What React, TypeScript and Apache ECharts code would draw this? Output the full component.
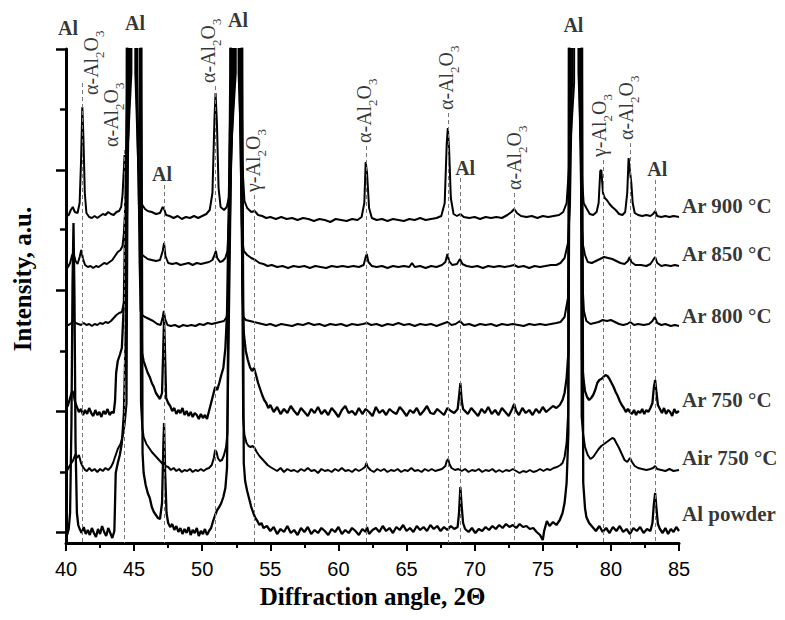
import { useEffect, useRef } from 'react';
import * as echarts from 'echarts';

// ---- data (x = diffraction angle 2Θ, y = intensity in arbitrary units, curves stacked) ----
const sampleNames = ['Ar 900 °C', 'Ar 850 °C', 'Ar 800 °C', 'Ar 750 °C', 'Air 750 °C', 'Al powder'];
const sampleLabelLevels = [337, 289, 227, 143, 85, 29];

const ar900: number[][] = [
  [40.0,327],[40.2,328],[40.35,333],[40.5,336],[40.65,331],[40.85,330],[41.0,340],[41.1,380],[41.2,436],[41.28,405],[41.38,350],[41.5,330],[41.7,326],[41.9,325],[42.1,327],[42.3,325],[42.5,327],[42.7,329],[42.9,328],[43.1,331],[43.3,329],[43.5,328],[43.7,331],[43.9,332],[44.05,336],[44.15,348],[44.3,388],[44.4,370],[44.55,400],[44.8,470],[44.84,900],[45.05,900],[45.09,470],[45.3,380],[45.45,350],[45.6,338],[45.8,334],[46.0,332],[46.3,331],[46.6,329],[46.9,330],[47.1,336],[47.2,334],[47.35,328],[47.6,327],[47.9,325],[48.2,327],[48.5,324],[48.8,326],[49.1,325],[49.4,327],[49.7,325],[50.0,327],[50.3,329],[50.55,333],[50.75,350],[50.9,425],[50.98,450],[51.08,420],[51.2,355],[51.35,336],[51.6,333],[51.8,336],[51.95,345],[52.1,390],[52.46,470],[52.5,900],[52.63,900],[52.67,470],[52.85,400],[52.98,370],[53.1,342],[53.3,335],[53.6,331],[53.85,332],[54.1,328],[54.4,327],[54.7,325],[55.0,326],[55.4,324],[55.8,326],[56.2,324],[56.6,325],[57.0,323],[57.4,325],[57.8,324],[58.2,322],[58.6,324],[59.0,323],[59.4,321],[59.8,324],[60.2,323],[60.6,322],[61.0,324],[61.4,323],[61.7,326],[61.9,340],[62.0,381],[62.1,370],[62.25,335],[62.45,325],[62.8,323],[63.2,324],[63.6,322],[64.0,324],[64.4,323],[64.8,322],[65.2,324],[65.6,323],[66.0,325],[66.4,323],[66.8,324],[67.2,325],[67.55,327],[67.8,340],[67.95,400],[68.03,415],[68.12,395],[68.25,345],[68.45,329],[68.7,327],[68.95,329],[69.2,326],[69.6,325],[70.0,326],[70.4,324],[70.8,326],[71.2,325],[71.6,326],[72.0,325],[72.4,328],[72.7,331],[72.9,334],[73.1,330],[73.4,327],[73.8,326],[74.2,327],[74.6,325],[75.0,327],[75.4,326],[75.8,327],[76.2,328],[76.5,331],[76.75,340],[76.9,370],[77.3,460],[77.34,900],[77.58,900],[77.62,470],[77.9,360],[78.0,340],[78.2,335],[78.45,329],[78.7,328],[78.95,331],[79.1,340],[79.22,372],[79.3,373],[79.42,350],[79.55,345],[79.7,343],[79.9,339],[80.1,336],[80.35,333],[80.6,329],[80.85,328],[81.05,331],[81.2,350],[81.3,385],[81.4,372],[81.5,360],[81.6,340],[81.75,330],[82.0,328],[82.3,327],[82.6,328],[82.9,327],[83.1,329],[83.25,332],[83.4,327],[83.7,326],[84.0,327],[84.3,326],[84.6,327],[85.0,326]
];

const ar850: number[][] = [
  [40.0,274],[40.15,276],[40.3,280],[40.45,288],[40.55,290],[40.7,282],[40.85,279],[41.0,286],[41.12,293],[41.25,284],[41.4,278],[41.6,276],[41.8,277],[42.0,275],[42.2,277],[42.4,276],[42.6,278],[42.8,280],[43.0,279],[43.2,281],[43.4,283],[43.6,287],[43.8,291],[44.0,293],[44.15,297],[44.25,310],[44.45,360],[44.71,470],[44.75,900],[45.12,900],[45.16,470],[45.35,340],[45.45,300],[45.6,288],[45.8,286],[46.0,284],[46.3,283],[46.6,282],[46.9,283],[47.1,292],[47.2,300],[47.3,287],[47.5,280],[47.8,279],[48.1,280],[48.4,278],[48.7,279],[49.0,280],[49.3,278],[49.6,280],[49.9,279],[50.2,280],[50.5,281],[50.75,283],[50.9,288],[51.0,292],[51.1,285],[51.3,281],[51.5,282],[51.7,285],[51.85,292],[51.95,320],[52.36,470],[52.4,900],[52.68,900],[52.72,470],[52.9,320],[52.97,300],[53.05,292],[53.3,288],[53.6,285],[53.9,283],[54.2,280],[54.5,279],[54.8,277],[55.1,278],[55.5,276],[55.9,277],[56.3,275],[56.7,277],[57.1,276],[57.5,277],[57.9,275],[58.3,277],[58.7,276],[59.1,275],[59.5,277],[59.9,276],[60.3,277],[60.7,276],[61.1,277],[61.5,276],[61.85,278],[62.0,286],[62.08,289],[62.2,281],[62.45,277],[62.8,276],[63.2,277],[63.6,275],[64.0,277],[64.4,276],[64.8,277],[65.2,276],[65.4,280],[65.6,276],[66.0,277],[66.4,275],[66.8,277],[67.2,276],[67.6,278],[67.85,281],[68.0,289],[68.12,282],[68.35,278],[68.7,279],[68.92,284],[69.1,279],[69.4,277],[69.8,276],[70.2,277],[70.6,275],[71.0,277],[71.4,276],[71.8,277],[72.2,276],[72.6,277],[72.9,278],[73.2,276],[73.6,277],[74.0,275],[74.4,277],[74.8,276],[75.2,277],[75.6,278],[76.0,278],[76.3,280],[76.6,285],[76.85,300],[77.0,340],[77.16,470],[77.2,900],[77.63,900],[77.67,470],[77.85,320],[77.95,298],[78.1,288],[78.3,281],[78.6,280],[78.9,282],[79.2,284],[79.5,286],[79.8,285],[80.1,284],[80.4,282],[80.7,280],[81.0,279],[81.25,282],[81.38,286],[81.5,281],[81.8,278],[82.2,278],[82.6,277],[82.9,279],[83.1,283],[83.25,286],[83.4,280],[83.7,277],[84.0,278],[84.4,277],[84.7,278],[85.0,277]
];

const ar800: number[][] = [
  [40.0,219],[40.2,218],[40.4,220],[40.55,223],[40.7,220],[40.9,219],[41.1,218],[41.3,220],[41.5,218],[41.7,219],[41.9,217],[42.1,219],[42.3,218],[42.5,220],[42.7,219],[42.9,221],[43.1,220],[43.3,222],[43.5,225],[43.7,228],[43.9,230],[44.1,231],[44.25,240],[44.45,300],[44.65,470],[44.69,900],[45.2,900],[45.24,470],[45.4,280],[45.48,232],[45.6,228],[45.8,226],[46.1,224],[46.4,222],[46.7,219],[46.95,218],[47.1,226],[47.18,232],[47.28,224],[47.45,218],[47.7,217],[48.0,218],[48.3,216],[48.6,218],[48.9,217],[49.2,218],[49.5,217],[49.8,219],[50.1,218],[50.4,220],[50.7,219],[51.0,220],[51.3,221],[51.6,222],[51.8,226],[51.92,245],[52.26,470],[52.3,900],[52.72,900],[52.76,470],[52.95,250],[53.02,226],[53.2,223],[53.5,222],[53.8,221],[54.1,220],[54.4,219],[54.7,218],[55.0,219],[55.4,217],[55.8,219],[56.2,218],[56.6,217],[57.0,219],[57.4,218],[57.8,220],[58.2,218],[58.6,219],[59.0,217],[59.4,219],[59.8,218],[60.2,219],[60.6,217],[61.0,219],[61.4,218],[61.8,219],[62.1,220],[62.4,218],[62.8,219],[63.2,217],[63.6,219],[64.0,218],[64.4,220],[64.8,218],[65.2,219],[65.6,217],[66.0,219],[66.4,218],[66.8,219],[67.2,217],[67.6,219],[68.0,221],[68.3,218],[68.6,219],[68.92,222],[69.2,218],[69.6,219],[70.0,217],[70.4,219],[70.8,218],[71.2,219],[71.6,217],[72.0,219],[72.4,218],[72.8,219],[73.2,218],[73.6,217],[74.0,219],[74.4,218],[74.8,219],[75.2,218],[75.6,219],[76.0,220],[76.3,221],[76.6,226],[76.85,245],[77.06,470],[77.1,900],[77.68,900],[77.72,470],[77.95,250],[78.02,232],[78.2,222],[78.5,219],[78.8,220],[79.1,221],[79.4,223],[79.7,222],[80.0,223],[80.3,221],[80.6,219],[80.9,218],[81.2,219],[81.42,221],[81.7,218],[82.0,219],[82.4,218],[82.8,219],[83.05,222],[83.22,226],[83.4,220],[83.7,218],[84.0,219],[84.4,217],[84.7,218],[85.0,217]
];

const ar750: number[][] = [
  [40.0,134],[40.15,138],[40.3,145],[40.45,152],[40.55,150],[40.65,142],[40.8,136],[40.95,131],[41.1,134],[41.25,128],[41.4,133],[41.55,129],[41.7,135],[41.85,130],[42.0,127],[42.15,133],[42.3,128],[42.45,131],[42.6,126],[42.75,132],[42.9,129],[43.05,134],[43.2,128],[43.35,131],[43.5,130],[43.6,142],[43.68,170],[43.8,182],[43.95,188],[44.1,195],[44.25,240],[44.35,330],[44.52,470],[44.55,900],[45.45,900],[45.49,470],[45.55,230],[45.58,190],[45.7,182],[45.85,176],[46.0,170],[46.15,166],[46.3,160],[46.45,156],[46.6,150],[46.75,147],[46.9,144],[47.05,150],[47.15,200],[47.2,225],[47.27,190],[47.35,145],[47.5,140],[47.65,137],[47.8,132],[47.95,135],[48.1,129],[48.25,133],[48.4,130],[48.55,135],[48.7,128],[48.85,132],[49.0,127],[49.15,131],[49.3,126],[49.45,130],[49.6,128],[49.75,124],[49.9,129],[50.05,125],[50.2,128],[50.35,124],[50.5,132],[50.65,140],[50.8,148],[50.95,156],[51.1,153],[51.25,160],[51.4,168],[51.55,175],[51.7,195],[51.82,230],[52.11,470],[52.15,900],[52.85,900],[52.89,470],[53.0,230],[53.05,210],[53.2,192],[53.35,183],[53.5,176],[53.65,172],[53.8,175],[53.95,168],[54.1,160],[54.25,154],[54.4,148],[54.55,143],[54.7,140],[54.85,135],
  [55.0,138],[55.25,131],[55.5,136],[55.75,129],[56.0,134],[56.25,130],[56.5,137],[56.75,132],[57.0,128],[57.25,135],[57.5,131],[57.75,127],[58.0,134],[58.25,130],[58.5,136],[58.75,129],[59.0,133],[59.25,128],[59.5,135],[59.75,131],[60.0,126],[60.25,133],[60.5,137],[60.75,130],[61.0,132],[61.25,128],[61.5,135],[61.75,129],[62.0,134],[62.25,131],[62.5,127],[62.75,136],[63.0,130],[63.25,133],[63.5,128],[63.75,134],[64.0,131],[64.25,129],[64.5,136],[64.75,132],[65.0,127],[65.25,133],[65.5,130],[65.75,135],[66.0,128],[66.25,132],[66.5,137],[66.75,130],[67.0,129],[67.25,134],[67.5,131],[67.75,128],[68.0,135],[68.25,132],[68.5,130],
  [68.75,134],[68.85,146],[68.95,160],[69.05,142],[69.15,134],
  [69.5,129],[69.75,135],[70.0,131],[70.25,127],[70.5,134],[70.75,130],[71.0,136],[71.25,129],[71.5,133],[71.75,128],[72.0,135],[72.25,131],[72.5,127],[72.75,134],[72.9,139],[73.05,132],[73.25,128],[73.5,135],[73.75,130],[74.0,133],[74.25,128],[74.5,134],[74.75,130],[75.0,136],[75.25,131],[75.5,134],[75.75,137],[76.0,135],[76.25,138],
  [76.45,143],[76.6,150],[76.75,165],[76.88,190],[76.96,470],[77.0,900],[77.8,900],[77.84,460],[77.88,183],[77.98,165],[78.1,152],[78.25,146],[78.4,143],[78.55,145],[78.7,148],[78.85,153],[79.0,160],[79.15,163],[79.3,164],[79.45,166],[79.6,168],[79.75,167],[79.9,164],[80.05,160],[80.2,156],[80.35,151],[80.5,147],[80.65,142],[80.8,138],[80.95,135],[81.1,131],[81.25,134],[81.4,131],[81.55,129],[81.7,133],[81.85,128],[82.0,132],[82.15,130],[82.3,134],[82.45,129],[82.6,133],[82.75,131],[82.9,135],[83.05,140],[83.15,155],[83.25,163],[83.35,150],[83.45,138],[83.6,134],[83.75,130],[83.9,135],[84.05,129],[84.2,133],[84.35,131],[84.5,127],[84.65,134],[84.8,130],[85.0,132]
];

const air750: number[][] = [
  [40.0,71],[40.15,74],[40.3,78],[40.5,82],[40.7,89],[40.8,85],[40.95,88],[41.1,80],[41.25,76],[41.4,73],[41.55,72],[41.7,75],[41.9,72],[42.1,74],[42.3,71],[42.5,74],[42.7,72],[42.9,75],[43.1,73],[43.3,76],[43.45,80],[43.6,86],[43.8,94],[44.0,99],[44.15,106],[44.3,118],[44.45,140],[44.56,470],[44.6,900],[45.38,900],[45.42,470],[45.5,140],[45.6,115],[45.7,106],[45.9,99],[46.1,95],[46.3,91],[46.5,88],[46.7,85],[46.9,82],[47.1,79],[47.3,77],[47.5,76],[47.7,73],[47.9,75],[48.1,72],[48.3,74],[48.5,71],[48.7,73],[48.9,72],[49.1,74],[49.3,71],[49.5,73],[49.7,72],[49.9,74],[50.1,72],[50.3,74],[50.5,75],[50.7,78],[50.85,85],[50.95,93],[51.05,91],[51.15,85],[51.3,82],[51.45,83],[51.6,88],[51.75,96],[51.85,110],[52.21,470],[52.25,900],[52.8,900],[52.84,470],[53.0,125],[53.1,108],[53.25,100],[53.4,97],[53.55,96],[53.7,97],[53.85,95],[54.0,91],[54.2,87],[54.4,84],[54.6,81],[54.8,78],[55.0,76],
  [55.25,74],[55.5,72],[55.75,75],[56.0,71],[56.25,74],[56.5,72],[56.75,73],[57.0,71],[57.25,74],[57.5,72],[57.75,75],[58.0,72],[58.25,73],[58.5,70],[58.75,74],[59.0,72],[59.25,73],[59.5,71],[59.75,74],[60.0,72],[60.25,75],[60.5,72],[60.75,73],[61.0,71],[61.25,74],[61.5,72],[61.75,74],[61.95,76],[62.05,80],[62.15,76],[62.35,73],[62.6,71],[62.85,74],[63.1,72],[63.35,74],[63.6,71],[63.85,73],[64.1,72],[64.35,74],[64.6,71],[64.85,73],[65.1,72],[65.35,75],[65.6,72],[65.85,73],[66.1,71],[66.35,74],[66.6,72],[66.85,74],[67.1,72],[67.35,73],[67.6,74],[67.85,77],[67.95,82],[68.05,84],[68.15,79],[68.3,75],[68.55,73],[68.8,74],[69.05,72],[69.3,74],[69.55,71],[69.8,73],[70.05,72],[70.3,74],[70.55,71],[70.8,73],[71.05,72],[71.3,74],[71.55,71],[71.8,73],[72.05,71],[72.3,73],[72.55,72],[72.8,74],[73.05,72],[73.3,70],[73.55,72],[73.8,71],[74.05,73],[74.3,71],[74.55,72],[74.8,74],[75.05,72],[75.3,74],[75.55,73],[75.8,75],[76.05,76],[76.3,78],
  [76.45,80],[76.6,86],[76.75,100],[76.86,130],[77.01,470],[77.05,900],[77.75,900],[77.79,470],[77.85,126],[77.95,110],[78.1,96],[78.3,88],[78.5,84],[78.7,86],[78.9,90],[79.1,94],[79.3,97],[79.5,99],[79.7,101],[79.9,103],[80.1,105],[80.25,104],[80.4,100],[80.6,95],[80.8,89],[81.0,83],[81.2,81],[81.4,85],[81.55,81],[81.75,77],[82.0,75],[82.3,74],[82.6,73],[82.9,74],[83.1,75],[83.25,77],[83.4,74],[83.7,73],[84.0,72],[84.3,74],[84.6,72],[85.0,73]
];

const alPowder: number[][] = [
  [40.0,6],[40.1,9],[40.2,14],[40.3,30],[40.4,120],[40.48,260],[40.55,320],[40.62,250],[40.7,100],[40.8,30],[40.9,18],[41.0,14],[41.15,10],[41.3,16],[41.45,9],[41.6,13],[41.75,8],[41.9,15],[42.05,10],[42.2,6],[42.35,14],[42.5,9],[42.65,17],[42.8,11],[42.95,7],[43.1,15],[43.25,10],[43.4,5],[43.55,12],[43.6,40],[43.65,70],[43.8,80],[43.95,88],[44.1,100],[44.25,130],[44.4,220],[44.46,470],[44.5,900],[45.5,900],[45.54,470],[45.62,90],[45.7,70],[45.85,58],[46.0,50],[46.15,45],[46.3,36],[46.45,31],[46.6,28],[46.75,25],[46.9,24],[47.05,40],[47.15,100],[47.2,120],[47.28,70],[47.38,30],[47.5,20],[47.65,16],[47.8,19],[47.95,13],[48.1,17],[48.25,11],[48.4,15],[48.55,9],[48.7,14],[48.85,10],[49.0,16],[49.15,8],[49.3,13],[49.45,10],[49.6,15],[49.75,7],[49.9,12],[50.05,9],[50.2,14],[50.35,8],[50.5,12],[50.65,15],[50.8,22],[50.95,28],[51.1,33],[51.25,36],[51.4,40],[51.55,46],[51.7,55],[51.82,75],[52.06,470],[52.1,900],[52.9,900],[52.94,470],[53.05,80],[53.15,62],[53.3,52],[53.45,44],[53.6,36],[53.75,30],[53.9,25],[54.05,22],[54.2,18],[54.35,20],[54.5,15],
  [54.75,17],[55.0,12],[55.25,16],[55.5,9],[55.75,14],[56.0,11],[56.25,17],[56.5,10],[56.75,13],[57.0,8],[57.25,15],[57.5,11],[57.75,16],[58.0,9],[58.25,13],[58.5,10],[58.75,15],[59.0,12],[59.25,8],[59.5,14],[59.75,11],[60.0,16],[60.25,9],[60.5,13],[60.75,10],[61.0,15],[61.25,12],[61.5,8],[61.75,14],[62.0,11],[62.1,16],[62.25,9],[62.5,13],[62.75,15],[63.0,11],[63.25,17],[63.5,12],[63.75,15],[64.0,10],[64.25,16],[64.5,13],[64.75,18],[65.0,12],[65.25,15],[65.5,11],[65.75,17],[66.0,13],[66.25,16],[66.5,12],[66.75,18],[67.0,14],[67.25,17],[67.5,12],[67.75,16],[68.0,13],[68.25,17],[68.5,14],
  [68.75,16],[68.85,30],[68.95,56],[69.05,36],[69.15,20],[69.3,14],[69.55,11],[69.8,15],[70.05,10],[70.3,14],[70.55,12],[70.8,16],[71.05,13],[71.3,17],[71.55,14],[71.8,18],[72.05,15],[72.3,19],[72.55,16],[72.8,18],[73.05,15],[73.3,19],[73.55,16],[73.8,17],[74.05,14],[74.3,15],[74.55,11],[74.8,8],[75.0,3],[75.1,12],[75.3,22],[75.5,17],[75.75,21],[76.0,18],[76.25,23],[76.45,30],[76.6,40],[76.75,60],[76.88,110],[76.91,470],[76.95,900],[77.85,900],[77.89,470],[77.97,60],[78.1,35],[78.2,26],[78.4,20],[78.65,16],[78.9,12],[79.15,17],[79.4,11],[79.65,15],[79.9,10],[80.15,16],[80.4,12],[80.65,17],[80.9,11],[81.15,14],[81.4,9],[81.65,15],[81.9,12],[82.15,16],[82.4,10],[82.65,14],[82.9,12],[83.05,20],[83.15,38],[83.25,50],[83.35,34],[83.45,19],[83.6,14],[83.8,10],[84.0,15],[84.2,9],[84.4,14],[84.6,11],[84.8,16],[85.0,12]
];

// dashed phase reference lines: [angle, top of line]
const phaseLines: number[][] = [
  [40.44,508],[41.17,460],[44.26,393],[45.0,511],[47.18,358],[50.92,457],[52.5,513],[53.85,348],
  [62.05,397],[68.05,430],[68.92,365],[72.9,350],[77.55,508],[79.45,383],[81.42,400],[83.25,363]
];

// rotated oxide labels: phase letter, angle of label centre, level of label start
const oxidePhases = ['α', 'α', 'α', 'γ', 'α', 'α', 'α', 'γ', 'α'];
const oxideAngles = [42.02, 43.52, 50.58, 53.88, 62.03, 68.05, 73.05, 79.3, 81.3];
const oxideLevels = [448, 396, 460, 351, 400, 433, 353, 386, 403];

// "Al" labels: [angle, level]
const alLabels: number[][] = [
  [40.15,515],[45.07,520],[47.05,369],[52.63,523],[69.3,375],[77.25,518],[83.4,374]
];

const majorYTicks = [11, 132, 253, 373, 494];
const minorYTicks = [71, 192, 314, 434];

const curves = [ar900, ar850, ar800, ar750, air750, alPowder];
const curveWidths = [2.0, 2.0, 2.0, 2.3, 2.0, 2.3];

const SERIF = 'Liberation Serif';
const SANS = 'Liberation Sans';

export default function App() {
  const ref = useRef<HTMLDivElement>(null);
  useEffect(() => {
    const chart = echarts.init(ref.current!, null, { renderer: 'svg' });
    const lineSeries = curves.map((d, i) => ({
      type: 'line',
      name: sampleNames[i],
      data: d,
      symbol: 'none',
      showSymbol: false,
      silent: true,
      clip: true,
      z: 3,
      lineStyle: { color: '#000', width: curveWidths[i] },
    }));
    const option: any = {
      animation: false,
      backgroundColor: '#fff',
      grid: { left: 66, right: 106, top: 49, bottom: 77 },
      xAxis: {
        type: 'value', min: 40, max: 85, interval: 5,
        axisLine: { lineStyle: { color: '#000', width: 3 } },
        axisTick: { length: 8, lineStyle: { color: '#000', width: 2 } },
        minorTick: { show: true, splitNumber: 2, length: 5, lineStyle: { color: '#000', width: 2 } },
        splitLine: { show: false },
        minorSplitLine: { show: false },
        axisLabel: { color: '#000', fontSize: 20, fontFamily: SANS, margin: 16 },
        name: 'Diffraction angle, 2Θ', nameLocation: 'middle', nameGap: 37,
        nameTextStyle: { color: '#000', fontFamily: SERIF, fontWeight: 'bold', fontSize: 25 },
      },
      yAxis: [
        {
          type: 'value', min: 0, max: 494,
          axisLine: { show: true, lineStyle: { color: '#000', width: 3 } },
          axisTick: { show: true, customValues: majorYTicks, length: 10, lineStyle: { color: '#000', width: 2.5 } },
          axisLabel: { show: false },
          splitLine: { show: false },
          name: 'Intensity, a.u.', nameLocation: 'middle', nameGap: 31,
          nameTextStyle: { color: '#000', fontFamily: SERIF, fontWeight: 'bold', fontSize: 25, padding: [0, 0, 0, 34] },
        },
        {
          type: 'value', min: 0, max: 494, position: 'left',
          axisLine: { show: false },
          axisTick: { show: true, customValues: minorYTicks, length: 6, lineStyle: { color: '#000', width: 2.5 } },
          axisLabel: { show: false },
          splitLine: { show: false },
        },
      ],
      series: [
        {
          type: 'line', data: [[40, 0]], symbol: 'none', silent: true, z: 1,
          lineStyle: { width: 0, opacity: 0 },
          markLine: {
            silent: true, symbol: ['none', 'none'], animation: false,
            label: { show: false },
            lineStyle: { type: [4, 3], color: '#777', width: 1 },
            data: phaseLines.map(([a, t]) => [{ coord: [a, t] }, { coord: [a, 0] }]),
          },
        },
        ...lineSeries,
        {
          type: 'scatter', symbolSize: 0, clip: false, silent: true, z: 5,
          data: oxidePhases.map((p, i) => ({ name: p, value: [oxideAngles[i], oxideLevels[i]] })),
          label: {
            show: true, position: [0, 0], rotate: 90, align: 'left', verticalAlign: 'middle',
            formatter: (p: any) => `{m|${p.name}-Al}{s|2}{m|O}{s|3}`,
            rich: {
              m: { fontFamily: SERIF, fontSize: 20, color: '#000', lineHeight: 25, verticalAlign: 'top' },
              s: { fontFamily: SERIF, fontSize: 13, color: '#000', lineHeight: 13, verticalAlign: 'bottom' },
            },
          },
        },
        {
          type: 'scatter', symbolSize: 0, clip: false, silent: true, z: 5,
          data: alLabels.map((v) => ({ name: 'Al', value: v })),
          label: {
            show: true, position: [0, 0], align: 'center', verticalAlign: 'middle',
            formatter: '{b}', color: '#000', fontFamily: SERIF, fontWeight: 'bold', fontSize: 20,
          },
        },
        {
          type: 'scatter', symbolSize: 0, clip: false, silent: true, z: 5,
          data: sampleNames.map((n, i) => ({ name: n, value: [85.22, sampleLabelLevels[i]] })),
          label: {
            show: true, position: [0, 0], align: 'left', verticalAlign: 'middle',
            formatter: '{b}', color: '#000', fontFamily: SERIF, fontWeight: 'bold', fontSize: 21,
          },
        },
      ],
    };
    chart.setOption(option);
    return () => chart.dispose();
  }, []);
  return (
    <div
      ref={ref}
      style={{ position: 'absolute', left: 0, top: 0, width: 785, height: 620, background: '#fff' }}
    />
  );
}
